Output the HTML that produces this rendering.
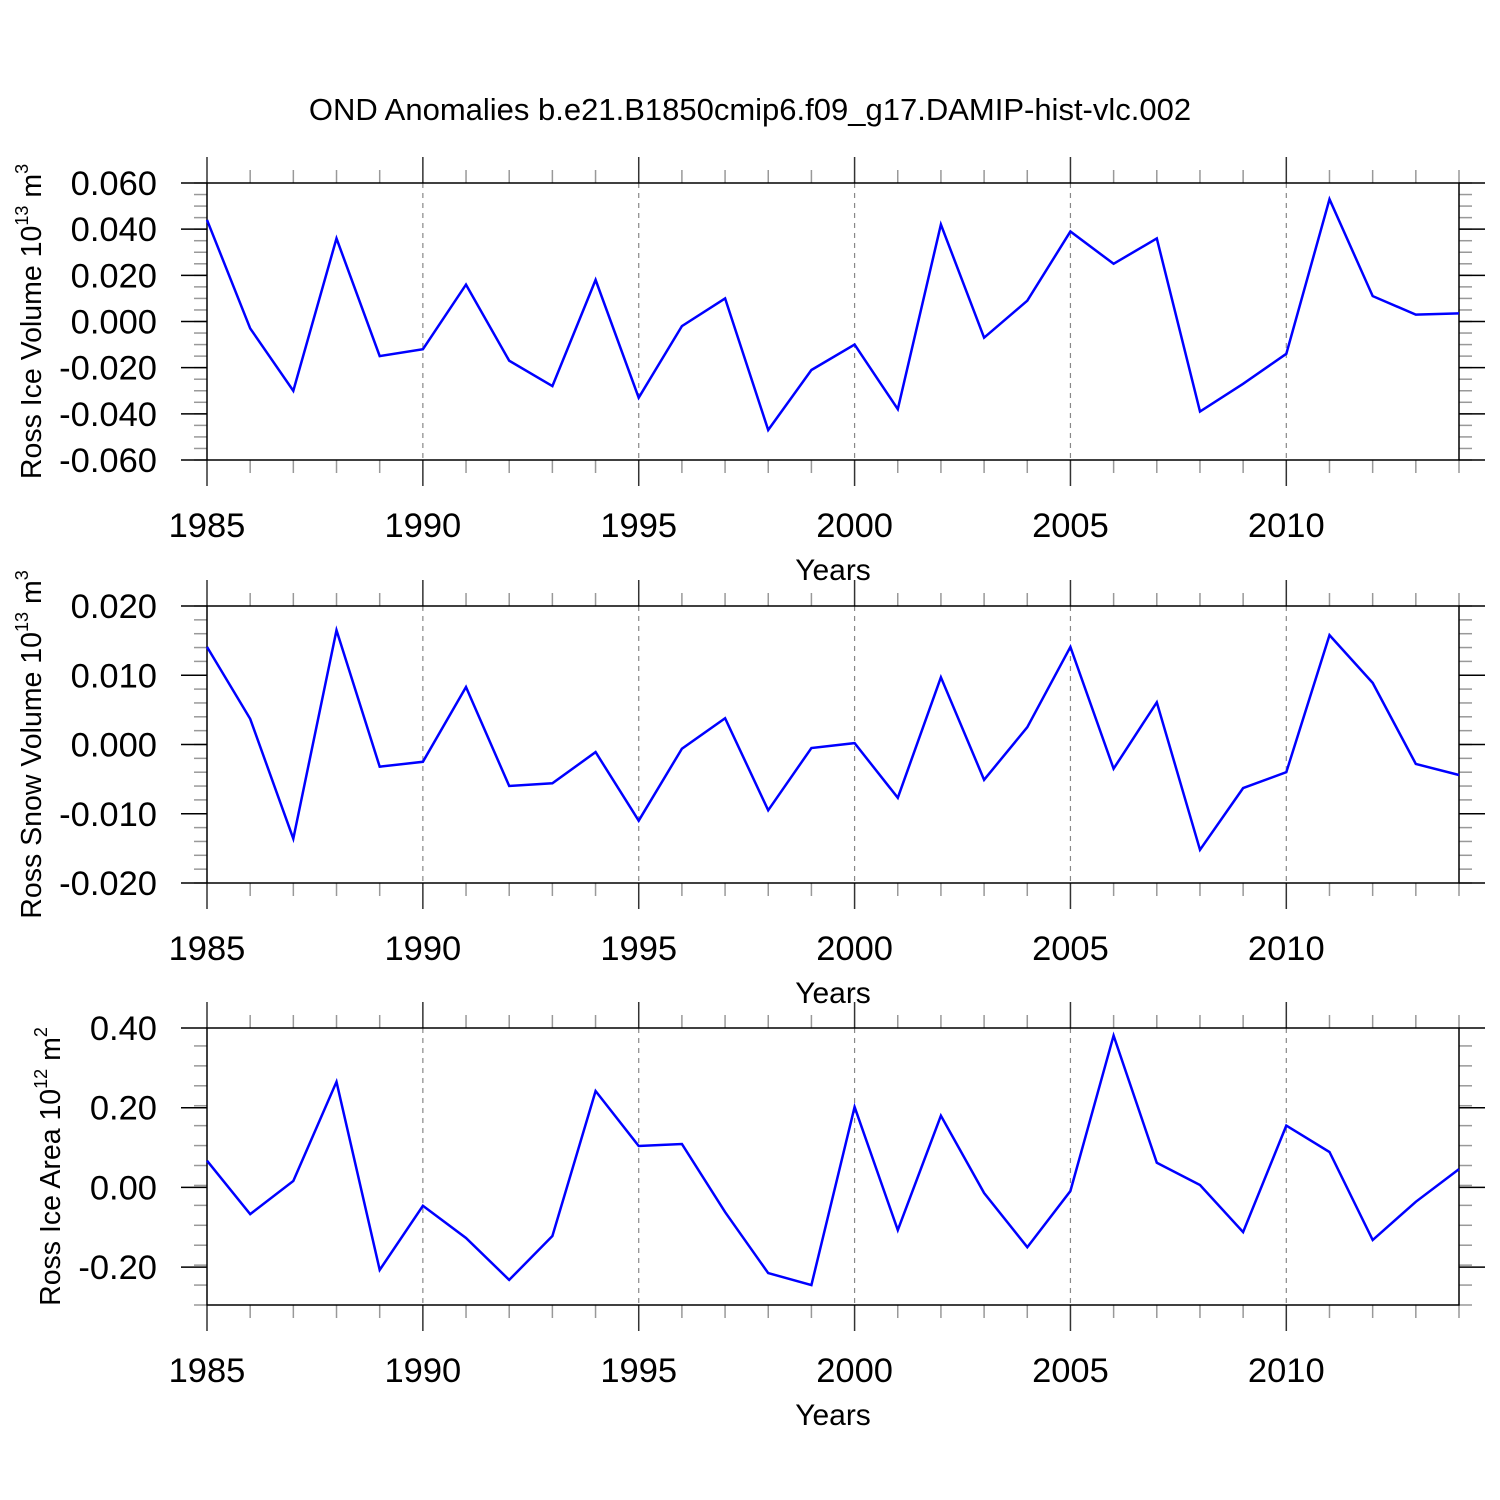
<!DOCTYPE html>
<html><head><meta charset="utf-8"><style>
html,body{margin:0;padding:0;background:#fff}
svg{display:block;font-family:"Liberation Sans",sans-serif}
</style></head><body>
<svg id="chart" width="1500" height="1500" viewBox="0 0 1500 1500">
<text x="750" y="120" font-size="31" text-anchor="middle">OND Anomalies b.e21.B1850cmip6.f09_g17.DAMIP-hist-vlc.002</text>
</svg>
<script>
const years = [1985,1986,1987,1988,1989,1990,1991,1992,1993,1994,1995,1996,1997,1998,1999,2000,2001,2002,2003,2004,2005,2006,2007,2008,2009,2010,2011,2012,2013,2014];
const iceVolume = [0.044,-0.003,-0.030,0.036,-0.015,-0.012,0.016,-0.017,-0.028,0.018,-0.033,-0.002,0.010,-0.047,-0.021,-0.010,-0.038,0.042,-0.007,0.009,0.039,0.025,0.036,-0.039,-0.027,-0.014,0.053,0.011,0.003,0.0035];
const snowVolume = [0.0141,0.0037,-0.0136,0.0165,-0.0032,-0.0025,0.0083,-0.0060,-0.0056,-0.0011,-0.0110,-0.0006,0.0038,-0.0095,-0.0005,0.0002,-0.0077,0.0097,-0.0051,0.0025,0.0141,-0.0035,0.0061,-0.0152,-0.0063,-0.0040,0.0158,0.0089,-0.0028,-0.0044];
const iceArea = [0.067,-0.067,0.016,0.265,-0.207,-0.046,-0.127,-0.232,-0.122,0.242,0.104,0.109,-0.062,-0.215,-0.245,0.202,-0.107,0.180,-0.014,-0.150,-0.009,0.381,0.062,0.006,-0.112,0.155,0.089,-0.132,-0.036,0.046];
const xTickLabels = [1985,1990,1995,2000,2005,2010];
const yTicks1 = [0.06,0.04,0.02,0,-0.02,-0.04,-0.06];
const yTickLabels1 = ["0.060","0.040","0.020","0.000","-0.020","-0.040","-0.060"];
const yTicks2 = [0.02,0.01,0,-0.01,-0.02];
const yTickLabels2 = ["0.020","0.010","0.000","-0.010","-0.020"];
const yTicks3 = [0.4,0.2,0,-0.2];
const yTickLabels3 = ["0.40","0.20","0.00","-0.20"];

const svg = document.getElementById('chart');
const NS = 'http://www.w3.org/2000/svg';
function mk(tag, attrs, parent){const e=document.createElementNS(NS,tag);for(const k in attrs)e.setAttribute(k,attrs[k]);(parent||svg).appendChild(e);return e;}
const X0=207, X1=1459;
function xs(y){return X0+(y-1985)/(2014-1985)*(X1-X0);}

function panel(name, top, bot, ymin, ymax, minorStep, ticks, labels, values, titleHtml){
  const g = mk('g',{});
  
  
  const ys = v => bot-(v-ymin)/(ymax-ymin)*(bot-top);
  for(const yr of xTickLabels){ if(yr===1985) continue;
    const l=mk('line',{x1:xs(yr),x2:xs(yr),y1:top,y2:bot,stroke:'#888','stroke-width':1.2,'stroke-dasharray':'5,5'},g);
     
  }
  for(let yr=1985; yr<=2014; yr++){
    const maj = (yr%5===0); const len = maj?26:13;
    const c = maj?'#333':'#999';
    mk('line',{x1:xs(yr),x2:xs(yr),y1:top-len,y2:top,stroke:c,'stroke-width':1.5},g);
    mk('line',{x1:xs(yr),x2:xs(yr),y1:bot,y2:bot+len,stroke:c,'stroke-width':1.5},g);
  }
  const n = Math.round((ymax-ymin)/minorStep);
  for(let i=0;i<=n;i++){ const v=ymin+i*minorStep; const y=ys(v); if(y<top-0.5||y>bot+0.5) continue;
    mk('line',{x1:X0-13,x2:X0,y1:y,y2:y,stroke:'#999','stroke-width':1.5},g);
    mk('line',{x1:X1,x2:X1+13,y1:y,y2:y,stroke:'#999','stroke-width':1.5},g);
  }
  ticks.forEach((v,i)=>{ const y=ys(v);
    mk('line',{x1:X0-26,x2:X0,y1:y,y2:y,stroke:'#000','stroke-width':1.5},g);
    mk('line',{x1:X1,x2:X1+26,y1:y,y2:y,stroke:'#000','stroke-width':1.5},g);
    const t=mk('text',{x:157,y:y+12,'font-size':34.5,'text-anchor':'end'},g); t.textContent=labels[i];
     
  });
  mk('rect',{x:X0,y:top,width:X1-X0,height:bot-top,fill:'none',stroke:'#000','stroke-width':1.5},g);
  for(const yr of xTickLabels){
    const t=mk('text',{x:xs(yr),y:bot+77,'font-size':34.5,'text-anchor':'middle'},g); t.textContent=yr;
     
  }
  const xt=mk('text',{x:833,y:bot+120,'font-size':30,'text-anchor':'middle'},g); xt.textContent='Years';
   
  const yt=mk('text',{x:0,y:0,'font-size':28.5,'text-anchor':'middle',transform:`translate(${name==='ice-area'?60:41},${(top+bot)/2}) rotate(-90)`},g);
  yt.innerHTML=titleHtml;
   
  const pts = values.map((v,i)=>xs(years[i]).toFixed(1)+','+ys(v).toFixed(1)).join(' ');
  const pl=mk('polyline',{points:pts,fill:'none',stroke:'#0000ff','stroke-width':2.5,'stroke-linejoin':'miter'},g);
   
}
panel('ice-volume',183,460,-0.06,0.06,0.005,yTicks1,yTickLabels1,iceVolume,'Ross Ice Volume 10<tspan dy="-13" font-size="18">13</tspan><tspan dy="13"> m</tspan><tspan dy="-13" font-size="18">3</tspan>');
panel('snow-volume',606,883,-0.02,0.02,0.002,yTicks2,yTickLabels2,snowVolume,'Ross Snow Volume 10<tspan dy="-13" font-size="18">13</tspan><tspan dy="13"> m</tspan><tspan dy="-13" font-size="18">3</tspan>');
panel('ice-area',1028,1305,-0.295,0.4,0.05,yTicks3,yTickLabels3,iceArea,'Ross Ice Area 10<tspan dy="-13" font-size="18">12</tspan><tspan dy="13"> m</tspan><tspan dy="-13" font-size="18">2</tspan>');
</script>
</body></html>
